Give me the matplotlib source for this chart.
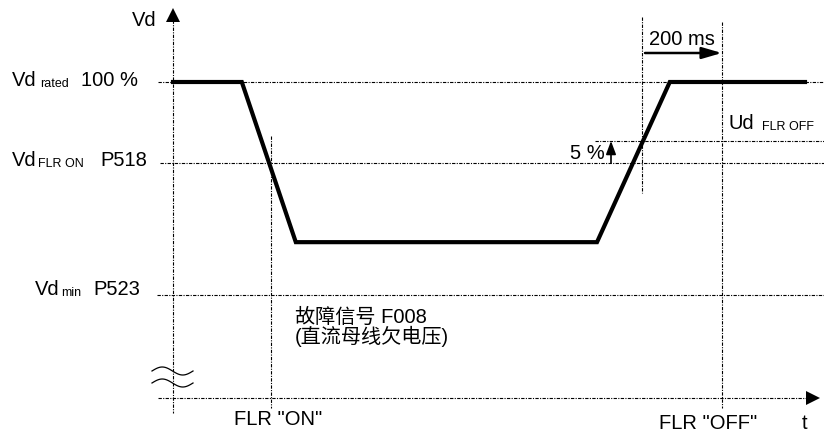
import numpy as np
import matplotlib
matplotlib.use('Agg')
import matplotlib.pyplot as plt

# waveform of the DC link voltage (time in ms, voltage in % of rated)
time_ms = [0, 172, 307, 1060, 1242, 1580]
vd_pct = [100, 100, 63.6, 63.6, 100, 100]

# threshold levels (%)
vd_rated = 100
vd_flr_on = 81.6
vd_flr_off = 86.6
vd_min = 51.6
vd_axis = 28.2

# event times (ms)
t_flr_on = 245
t_flr_off_start = 1172
t_flr_off = t_flr_off_start + 200

plt.rcParams['font.family'] = ['Liberation Sans', 'Noto Sans CJK SC']

# layout scale of the original drawing: pixels -> data
MS_PER_PX = 2.5
PX_PER_PCT = 4.4
X0, Y0 = 173, 82


def tx(px):
    return (px - X0) * MS_PER_PX


def vy(py):
    return 100 - (py - Y0) / PX_PER_PCT


fig = plt.figure(figsize=(8.24, 4.4), dpi=100)
ax = fig.add_axes([0, 0, 1, 1])
ax.set_xlim(tx(0), tx(824))
ax.set_ylim(vy(440), vy(0))
ax.axis('off')

dot = dict(color='black', lw=0.8, ls=(0, (3, 1.2, 1, 1.2)))

# horizontal reference lines
ax.plot([tx(158), tx(824)], [vd_rated, vd_rated], **dot)
ax.plot([tx(160), tx(824)], [vd_flr_on, vd_flr_on], **dot)
ax.plot([tx(595), tx(824)], [vd_flr_off, vd_flr_off], **dot)
ax.plot([tx(157), tx(824)], [vd_min, vd_min], **dot)
ax.plot([tx(158), tx(812)], [vd_axis, vd_axis], **dot)

# vertical lines
ax.plot([0, 0], [vy(20), vy(413)], **dot)
ax.plot([t_flr_on, t_flr_on], [vy(136), vy(408)], **dot)
ax.plot([t_flr_off_start, t_flr_off_start], [vy(17), vy(193)], **dot)
ax.plot([t_flr_off, t_flr_off], [vy(22), vy(408)], **dot)

# axis arrow heads
ax.plot(0, vy(15), marker='^', ms=10, color='black', mew=0)
ax.plot(tx(813), vd_axis, marker='>', ms=10, color='black', mew=0)

# waveform
ax.plot(time_ms, vd_pct, color='black', lw=3, solid_joinstyle='miter')

# 200 ms arrow
ax.annotate('', xy=(t_flr_off, vy(53)), xytext=(tx(645), vy(53)),
            arrowprops=dict(arrowstyle='-|>,head_length=1.2,head_width=0.35',
                            lw=1.8, color='black', shrinkA=0, shrinkB=0))
ax.text(tx(682), vy(45), '200 ms', fontsize=14.5, ha='center', va='baseline')

# 5 % arrow
ax.annotate('', xy=(tx(611), vd_flr_off), xytext=(tx(611), vd_flr_on),
            arrowprops=dict(arrowstyle='-|>,head_length=0.8,head_width=0.3',
                            lw=1.2, color='black', shrinkA=0, shrinkB=0))
ax.text(tx(605), vy(159), '5 %', fontsize=14.5, ha='right', va='baseline')

# break symbol on the vertical axis
xs = np.linspace(152, 193, 60)
wave = 4 * np.sin(2 * np.pi * (xs - 152) / 41)
for yc in (371, 383):
    ax.plot(tx(xs), vy(yc - wave), color='black', lw=0.9)

# labels
fs = 14.5
sub = 9
ax.text(tx(132), vy(26), 'Vd', fontsize=fs, va='baseline')
ax.text(tx(12), vy(86), 'Vd', fontsize=fs, va='baseline')
ax.text(tx(40), vy(87), 'rated', fontsize=sub, va='baseline')
ax.text(tx(138), vy(86), '100 %', fontsize=fs, ha='right', va='baseline')
ax.text(tx(12), vy(166), 'Vd', fontsize=fs, va='baseline')
ax.text(tx(38), vy(167), 'FLR ON', fontsize=sub, va='baseline')
ax.text(tx(147), vy(166), 'P518', fontsize=fs, ha='right', va='baseline')
ax.text(tx(35), vy(295), 'Vd', fontsize=fs, va='baseline')
ax.text(tx(61), vy(296), 'min', fontsize=sub, va='baseline')
ax.text(tx(140), vy(295), 'P523', fontsize=fs, ha='right', va='baseline')
ax.text(tx(728), vy(129), 'Ud', fontsize=fs, va='baseline')
ax.text(tx(762), vy(130), 'FLR OFF', fontsize=sub, va='baseline')

ax.text(tx(295), vy(308), '故障信号 F008\n(直流母线欠电压)', fontsize=fs,
        va='top', linespacing=0.95)

ax.text(tx(278), vy(425), 'FLR "ON"', fontsize=fs, ha='center', va='baseline')
ax.text(tx(708), vy(429), 'FLR "OFF"', fontsize=fs, ha='center', va='baseline')
ax.text(tx(805), vy(429), 't', fontsize=fs, ha='center', va='baseline')

fig.savefig('out.png', dpi=100)
